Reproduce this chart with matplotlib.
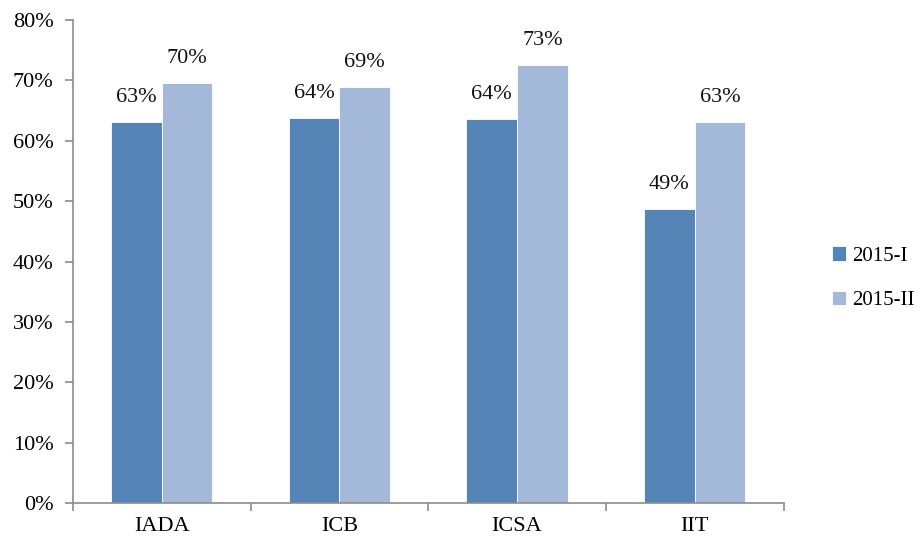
#!/usr/bin/env python3
"""Grouped bar chart: share per institute, 2015-I vs 2015-II."""
import numpy as np
import matplotlib
matplotlib.use("Agg")
import matplotlib.pyplot as plt
from matplotlib.ticker import FuncFormatter, MultipleLocator

# Data
categories = ["IADA", "ICB", "ICSA", "IIT"]
series_names = ["2015-I", "2015-II"]
values_2015_i = [63.1, 63.7, 63.6, 48.7]
values_2015_ii = [69.5, 68.9, 72.5, 63.1]
labels_2015_i = ["63%", "64%", "64%", "49%"]
labels_2015_ii = ["70%", "69%", "73%", "63%"]

DARK = "#5584B6"
LIGHT = "#A4B8D9"
AXIS = "#8C8C8C"
FONT = "Liberation Serif"
FS = 16

plt.rcParams["font.family"] = [FONT, "DejaVu Serif"]

fig = plt.figure(figsize=(9.18, 5.39), dpi=100)
ax = fig.add_axes([0.0795, 0.0668, 0.774, 0.896])

x = np.arange(len(categories))
w = 0.285
b1 = ax.bar(x - w / 2, values_2015_i, w, color=DARK, edgecolor="white", linewidth=0.6, label=series_names[0])
b2 = ax.bar(x + w / 2, values_2015_ii, w, color=LIGHT, edgecolor="white", linewidth=0.6, label=series_names[1])

for bars, labs in ((b1, labels_2015_i), (b2, labels_2015_ii)):
    for rect, lab in zip(bars, labs):
        ax.annotate(lab, (rect.get_x() + rect.get_width() / 2, rect.get_height()),
                    xytext=(0, 11), textcoords="offset points",
                    ha="center", va="bottom", fontsize=FS, color="#111111")

ax.set_xlim(-0.5, len(categories) - 0.5)
ax.set_ylim(0, 80)
ax.yaxis.set_major_locator(MultipleLocator(10))
ax.yaxis.set_major_formatter(FuncFormatter(lambda v, p: f"{v:.0f}%"))

# category labels centred, tick marks at the boundaries
ax.set_xticks(x)
ax.set_xticklabels(categories, fontsize=FS)
ax.tick_params(axis="x", which="major", length=0, pad=10)
ax.set_xticks(np.arange(len(categories) + 1) - 0.5, minor=True)
ax.tick_params(axis="x", which="minor", length=6, color=AXIS, width=1.2)
ax.tick_params(axis="y", length=6, color=AXIS, width=1.2, labelsize=FS, pad=8)

for s in ("top", "right"):
    ax.spines[s].set_visible(False)
for s in ("left", "bottom"):
    ax.spines[s].set_color(AXIS)
    ax.spines[s].set_linewidth(1.2)

leg = ax.legend(loc="center left", bbox_to_anchor=(0.906, 0.484), bbox_transform=fig.transFigure,
                frameon=False, fontsize=15, handlelength=0.7, handleheight=0.7,
                handletextpad=0.3, labelspacing=1.2, borderaxespad=0, borderpad=0)

fig.savefig("out.png", dpi=100)
